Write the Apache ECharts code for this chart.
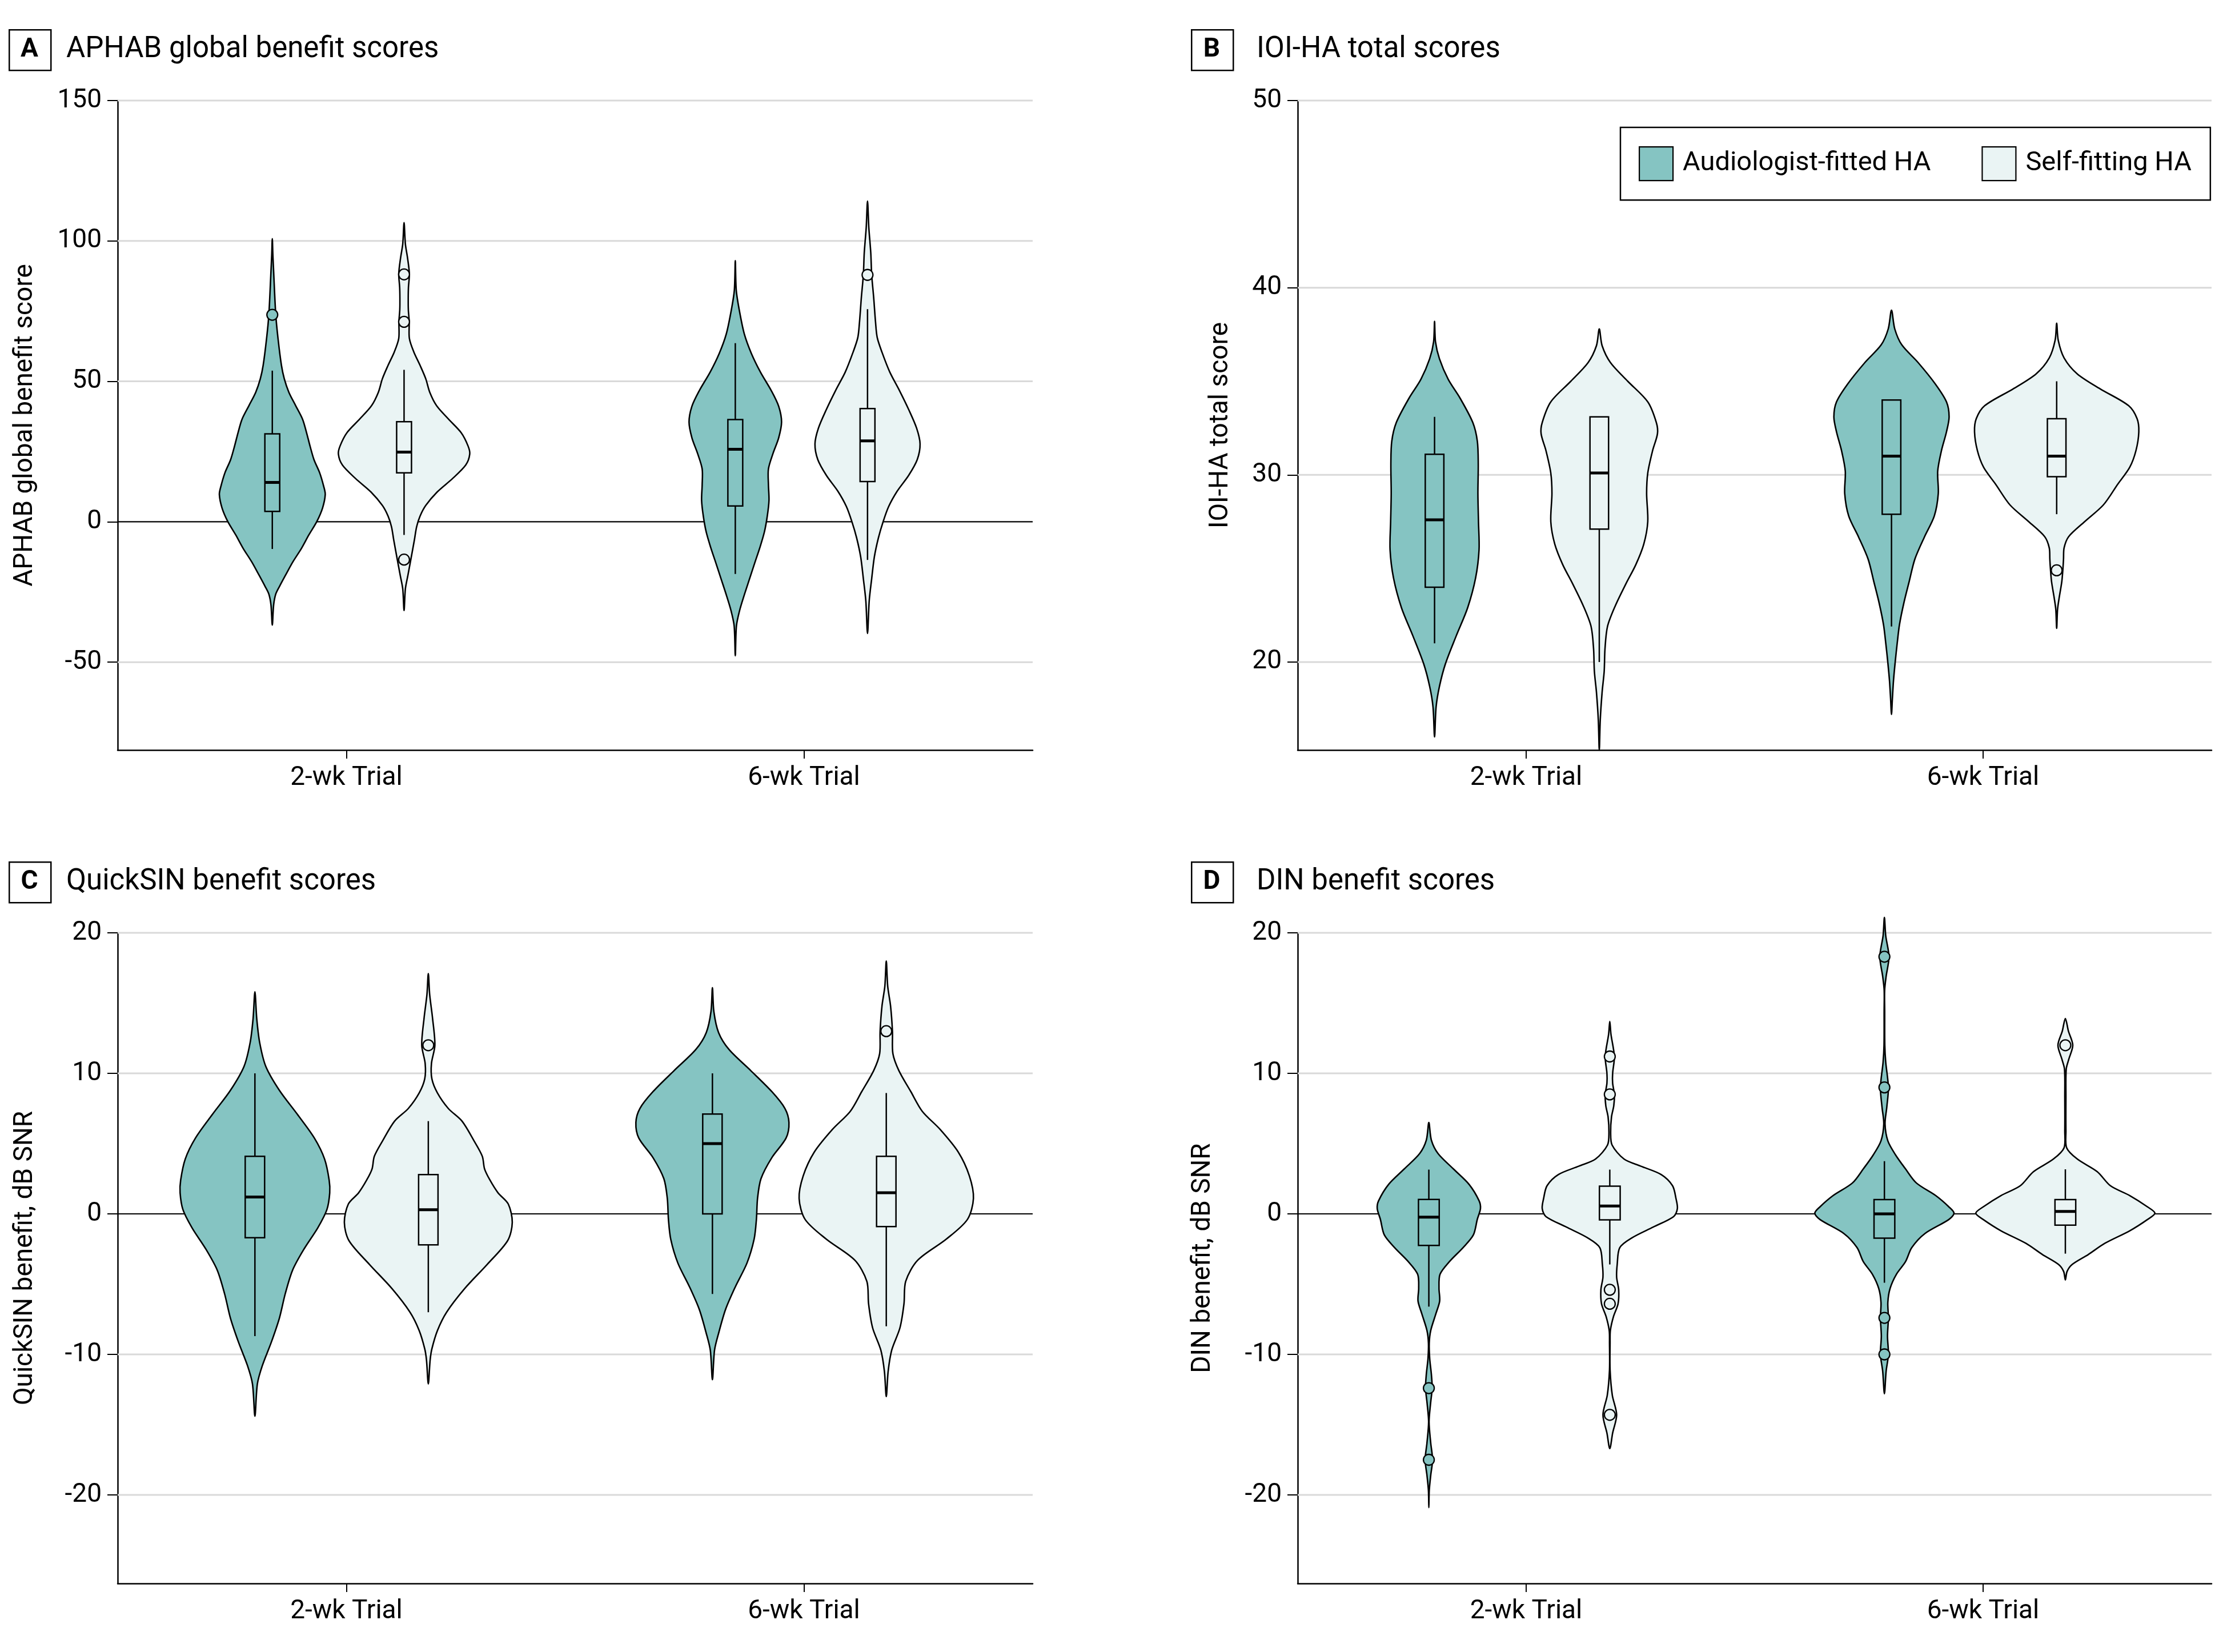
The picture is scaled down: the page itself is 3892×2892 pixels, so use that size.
<!DOCTYPE html>
<html><head><meta charset="utf-8">
<script src="https://cdn.jsdelivr.net/npm/echarts@6/dist/echarts.min.js"></script>
<style>html,body{margin:0;padding:0;background:#fff}#c{width:3892px;height:2892px}</style>
</head><body><div id="c"></div><script>
// ---------------- DATA ----------------
const categories = ['2-wk Trial', '6-wk Trial'];
const groupNames = ['Audiologist-fitted HA', 'Self-fitting HA'];
const panelLetters = ['A', 'B', 'C', 'D'];
const panelTitles = ['APHAB global benefit scores', 'IOI-HA total scores', 'QuickSIN benefit scores', 'DIN benefit scores'];
const yAxisNames = ['APHAB global benefit score', 'IOI-HA total score', 'QuickSIN benefit, dB SNR', 'DIN benefit, dB SNR'];
const yTicksA = [-50, 0, 50, 100, 150];
const yTicksB = [20, 30, 40, 50];
const yTicksC = [-20, -10, 0, 10, 20];
const yTicksD = [-20, -10, 0, 10, 20];
const yRangeA = [-81.3, 150];
const yRangeB = [15.3, 50];
const yRangeC = [-26.3, 20];
const yRangeD = [-26.3, 20];

// violin profiles: [value, relative density half-width]
const violinA_aud_2wk = [[-36.8,0],[-29.7,2.3],[-25.8,6],[-22.9,13],[-19.1,23],[-14.3,36],[-9.5,51],[-4.7,64],[0.1,78],[4.9,88],[9.7,92.7],[12.6,90],[17.4,83],[22.1,73],[27,66],[31.7,60],[36.5,53],[41.3,41],[46.1,29],[50.9,21],[55.7,16],[65.3,10],[73.9,6],[89.3,2.3],[95,1],[100.8,0]];
const violinA_self_2wk = [[-31.6,0],[-23.9,2.3],[-19.1,6.7],[-13.3,12],[-6.6,18],[-1.8,22],[2.0,28],[5.8,38],[10.6,58],[15.4,85],[20.2,108],[24.1,115],[27,112],[31.7,100],[36.5,78],[41.3,57],[46.1,45],[50.9,38],[55.7,28],[60.5,17],[65.3,9.3],[71.3,9],[75.5,7.5],[79.7,7.3],[83.5,7.7],[88.3,9.3],[94.1,6],[98.9,2.3],[106.5,0]];
const violinA_aud_6wk = [[-47.7,0],[-37.1,2],[-31.5,7.7],[-25.9,16],[-20.3,25],[-14.7,34],[-9.2,43],[-3.6,51],[2.0,56],[7.6,59],[13.2,58],[18.8,58],[24.3,66],[29.9,76],[35.5,81],[41.1,76],[46.7,63],[53.3,44],[60.0,28],[66.7,16],[74.6,7.7],[82.4,1.7],[93.0,0]];
const violinA_self_6wk = [[-39.8,0],[-28.1,3],[-20.3,7.3],[-12.5,12],[-5.8,19],[-0.2,27],[5.4,37],[10.9,52],[16.5,72],[22.1,87],[27.7,92],[33.3,86],[40.0,72],[46.7,56],[53.3,39],[60.0,26],[65.6,17],[71.2,14],[80.1,10.7],[87.9,7.3],[95.8,5.7],[104.7,2.3],[114.2,0]];

const violinB_aud_2wk = [[16.0,0],[17.6,2.7],[18.7,8.6],[19.9,19],[21.4,38],[22.9,58],[24.5,72],[26.0,78],[27.5,77],[29.0,76],[30.6,76.6],[31.8,75],[32.8,67],[34.1,44.7],[35.1,24],[36.2,8.6],[37.1,1.7],[38.2,0]];
const violinB_self_2wk = [[15.3,0],[16.9,1.7],[18.4,5],[19.5,8.6],[20.7,10],[21.9,14.4],[23.0,28],[24.2,47],[25.2,64],[26.3,78],[27.5,85],[29.0,83],[30.1,85],[31.3,93.5],[32.2,102],[32.8,100],[33.9,85],[35.0,50],[36.0,19.6],[36.9,5],[37.8,0]];
const violinB_aud_6wk = [[17.2,0],[18.0,1.5],[19.0,3.5],[20.0,6.5],[21.0,10],[22.0,14],[23.2,22],[24.3,31],[25.5,41],[26.7,58],[27.8,75],[29.0,82],[30.2,81],[31.3,87.6],[32.3,96.4],[33.1,101],[33.9,96.4],[34.85,77],[36.0,46.7],[36.95,18],[37.8,5.7],[38.8,0]];
const violinB_self_6wk = [[21.8,0],[22.8,1.5],[23.4,4.2],[24.3,9],[25.0,11],[25.5,12],[26.1,13],[26.7,21],[27.5,49],[28.4,82],[29.5,107],[30.4,128],[31.3,139],[32.3,144],[33.0,141],[33.7,126],[34.6,76],[35.4,36],[36.25,13],[37.2,2.7],[38.1,0]];

const violinC_aud_2wk = [[-14.4,0],[-12.1,4.3],[-10.8,13],[-9.1,29],[-7.4,43],[-5.7,53],[-4.0,66],[-2.5,86],[-1.0,110],[0.3,126],[1.5,131],[2.4,130],[3.9,122],[5.4,104],[7.1,74],[8.8,42.7],[10.5,19],[12.2,8.3],[13.9,3.2],[15.8,0]];
const violinC_self_2wk = [[-12.1,0],[-10.4,3.2],[-9.6,6.3],[-8.3,16],[-7.0,32],[-5.3,64],[-3.6,103],[-1.9,139],[-0.6,147],[0.7,140],[1.5,122],[2.4,108],[3.2,98.5],[4.1,94.5],[5.2,80],[6.6,59],[7.5,35],[8.6,16],[9.6,6.3],[10.7,5.5],[12.0,11.5],[13.9,7.5],[15.6,2.4],[17.1,0]];
const violinC_aud_6wk = [[-11.8,0],[-9.7,3.7],[-8.5,10.8],[-6.8,23],[-5.2,40],[-3.5,60.5],[-1.8,73],[-0.4,77],[1.1,79],[2.5,85],[4.0,104],[5.4,129],[6.5,134],[7.5,127],[8.7,104],[10.2,67],[11.7,29],[12.9,10.8],[14.4,2.5],[16.1,0]];
const violinC_self_6wk = [[-13.0,0],[-11.2,3.3],[-9.7,9.5],[-8.1,24],[-6.4,31],[-4.8,34],[-3.3,55],[-1.8,105],[-0.4,142],[1.1,152.6],[2.7,145.5],[4.4,126],[6.0,94.5],[7.3,63],[8.7,43],[10.2,22],[11.4,11.6],[13.0,10.8],[14.8,7.5],[16.2,2.5],[18.0,0]];

const violinD_aud_2wk = [[-20.9,0],[-19.7,0.7],[-18.6,3.3],[-17.5,6.5],[-16.3,3.3],[-14.8,0.4],[-13.5,3],[-12.4,5.8],[-11.4,4.4],[-10.3,1.5],[-9.2,0.7],[-8.3,3.3],[-7.1,12.4],[-6.2,19],[-5.3,17.8],[-4.3,19.6],[-3.4,36],[-2.4,60],[-1.5,78],[-0.38,85],[0.38,90.5],[0.94,88],[2.1,70.5],[3.2,43],[4.3,16],[5.25,4.4],[6.5,0]];
const violinD_self_2wk = [[-16.7,0],[-15.6,5],[-14.3,12],[-12.9,4.4],[-11.1,0.5],[-9.2,0.5],[-8.3,1],[-7.3,6.5],[-6.4,14.5],[-5.4,15.6],[-4.5,12],[-3.6,13],[-2.4,17.5],[-1.7,39],[-0.94,76],[-0.19,112],[0.38,118.5],[1.1,116],[2.0,110],[2.8,90],[3.4,54],[3.9,25],[4.9,4],[5.8,1.5],[6.9,3],[7.7,7],[8.5,8],[9.3,5],[10.0,5],[11.2,8],[12.8,2],[13.7,0]];
const violinD_aud_6wk = [[-12.8,0],[-11.2,3],[-10.0,7],[-8.7,5.4],[-7.4,7],[-6.3,6],[-5.3,10],[-4.3,21],[-3.4,37],[-2.4,48],[-1.4,71],[-0.4,113],[0.05,122],[0.5,113],[1.3,90],[2.2,56],[3.2,37],[4.2,19.5],[5.2,6],[6.4,1.1],[7.6,4.2],[9.0,7],[10.8,2.3],[12.0,0.7],[14.4,0.5],[15.9,0.4],[16.9,3],[18.3,8],[19.8,2.3],[21.1,0]];
const violinD_self_6wk = [[-4.7,0],[-4.1,3],[-3.6,12],[-2.9,40],[-2.1,69],[-1.2,113],[-0.4,144],[0.05,157],[0.5,144],[1.3,113],[2.0,79],[3.0,56],[3.9,21],[4.7,2.3],[5.9,1],[8.3,1],[10.3,1.5],[11.0,6],[12.0,13],[13.0,5.4],[13.9,0]];

// box statistics: [lower whisker, Q1, median, Q3, upper whisker] for 2-wk, 6-wk
const boxA_aud = [[-9.7, 3.7, 14.0, 31.3, 53.8], [-18.6, 5.6, 25.8, 36.4, 63.6]];
const boxA_self = [[-4.7, 17.4, 24.8, 35.6, 54.1], [-13.6, 14.3, 28.8, 40.3, 75.7]];
const boxB_aud = [[21.0, 24.0, 27.6, 31.1, 33.1], [21.9, 27.9, 31.0, 34.0, 34.0]];
const boxB_self = [[20.0, 27.1, 30.1, 33.1, 33.1], [27.9, 29.9, 31.0, 33.0, 35.0]];
const boxC_aud = [[-8.7, -1.7, 1.2, 4.1, 10.0], [-5.7, 0.0, 5.0, 7.1, 10.0]];
const boxC_self = [[-7.0, -2.2, 0.3, 2.8, 6.6], [-8.0, -0.9, 1.5, 4.1, 8.6]];
const boxD_aud = [[-6.6, -2.25, -0.23, 1.03, 3.15], [-4.9, -1.73, 0.0, 1.02, 3.75]];
const boxD_self = [[-3.6, -0.43, 0.56, 1.97, 3.15], [-2.83, -0.8, 0.17, 1.02, 3.17]];

// outliers for 2-wk, 6-wk
const outA_aud = [[73.7], []];
const outA_self = [[-13.5, 71.2, 88.1], [87.9]];
const outB_aud = [[], []];
const outB_self = [[], [24.9]];
const outC_aud = [[], []];
const outC_self = [[12.0], [13.0]];
const outD_aud = [[-12.4, -17.5], [-7.4, -10.0, 9.0, 18.3]];
const outD_self = [[-5.4, -6.4, -14.3, 8.5, 11.2], [12.0]];

// ---------------- STYLE / LAYOUT ----------------
const FONT = 'Roboto, "Liberation Sans", sans-serif';
const TEAL = '#85C4C2';
const PALE = '#EAF4F4';
const GRIDC = '#D9D9D9';
const REF_BAND = 801;

const panels = [
  { grid: {left: 206, top: 176, width: 1602, height: 1137}, ticks: yTicksA, range: yRangeA,
    violins: [[violinA_aud_2wk, violinA_aud_6wk], [violinA_self_2wk, violinA_self_6wk]],
    boxes: [boxA_aud, boxA_self], outs: [outA_aud, outA_self],
    offsets: [[-0.162, -0.150], [0.126, 0.139]], boxHalf: 13, nameGap: 139,
    label: {x: 15, y: 51}, titleX: 116 },
  { grid: {left: 2272, top: 176, width: 1600, height: 1137}, ticks: yTicksB, range: yRangeB,
    violins: [[violinB_aud_2wk, violinB_aud_6wk], [violinB_self_2wk, violinB_self_6wk]],
    boxes: [boxB_aud, boxB_self], outs: [outB_aud, outB_self],
    offsets: [[-0.2005, -0.2005], [0.160, 0.161]], boxHalf: 16.3, nameGap: 112,
    label: {x: 2085, y: 51}, titleX: 2200 },
  { grid: {left: 206, top: 1633, width: 1602, height: 1139}, ticks: yTicksC, range: yRangeC,
    violins: [[violinC_aud_2wk, violinC_aud_6wk], [violinC_self_2wk, violinC_self_6wk]],
    boxes: [boxC_aud, boxC_self], outs: [outC_aud, outC_self],
    offsets: [[-0.200, -0.200], [0.179, 0.180]], boxHalf: 17, nameGap: 139,
    label: {x: 15, y: 1508}, titleX: 116 },
  { grid: {left: 2272, top: 1633, width: 1600, height: 1139}, ticks: yTicksD, range: yRangeD,
    violins: [[violinD_aud_2wk, violinD_aud_6wk], [violinD_self_2wk, violinD_self_6wk]],
    boxes: [boxD_aud, boxD_self], outs: [outD_aud, outD_self],
    offsets: [[-0.213, -0.216], [0.183, 0.180]], boxHalf: 18.2, nameGap: 143,
    label: {x: 2085, y: 1508}, titleX: 2200 }
];

function gridRenderer(params, api) {
  const cs = params.coordSys;
  const v = api.value(1);
  const y = api.coord([0, v])[1];
  return { type: 'line', silent: true,
    shape: {x1: cs.x, y1: y, x2: cs.x + cs.width, y2: y},
    style: {stroke: v === 0 ? '#000' : GRIDC, lineWidth: v === 0 ? 2.2 : 3} };
}

function makeViolinRenderer(p, g, color) {
  return function (params, api) {
    const i = params.dataIndex;
    const band = api.size([1, 0])[0];
    const k = band / REF_BAND;
    const cx = api.coord([i, 0])[0] + p.offsets[g][i] * band;
    const Y = v => api.coord([i, v])[1];
    const prof = p.violins[g][i];
    const right = prof.map(d => [cx + d[1] * k, Y(d[0])]);
    const left = prof.slice(1, -1).reverse().map(d => [cx - d[1] * k, Y(d[0])]);
    const b = p.boxes[g][i];
    const bh = p.boxHalf * k;
    const ln = {stroke: '#000', lineWidth: 2.5};
    const children = [
      {type: 'polygon', shape: {points: right.concat(left), smooth: 0.3},
       style: {fill: color, stroke: '#000', lineWidth: 2.6, lineJoin: 'round'}},
      {type: 'line', shape: {x1: cx, y1: Y(b[3]), x2: cx, y2: Y(b[4])}, style: ln},
      {type: 'line', shape: {x1: cx, y1: Y(b[0]), x2: cx, y2: Y(b[1])}, style: ln},
      {type: 'rect', shape: {x: cx - bh, y: Y(b[3]), width: 2 * bh, height: Y(b[1]) - Y(b[3])},
       style: {fill: color, stroke: '#000', lineWidth: 2.5}},
      {type: 'line', shape: {x1: cx - bh, y1: Y(b[2]), x2: cx + bh, y2: Y(b[2])},
       style: {stroke: '#000', lineWidth: 5}}
    ];
    p.outs[g][i].forEach(o => {
      children.push({type: 'circle', shape: {cx: cx, cy: Y(o), r: 9.5},
        style: {fill: color, stroke: '#000', lineWidth: 2.3}});
    });
    return {type: 'group', children: children};
  };
}

const option = {
  backgroundColor: '#fff',
  animation: false,
  textStyle: {fontFamily: FONT},
  grid: [], xAxis: [], yAxis: [], series: [], graphic: [],
  legend: {
    left: 2837, top: 223, orient: 'horizontal', icon: 'rect',
    itemWidth: 59, itemHeight: 59, itemGap: 89, padding: [33, 33, 33, 32],
    borderColor: '#000', borderWidth: 2.5, backgroundColor: '#fff', selectedMode: false,
    textStyle: {fontSize: 47, color: '#000', fontFamily: FONT, padding: [0, 0, 0, 12]},
    data: [
      {name: groupNames[0], itemStyle: {color: TEAL, borderColor: '#000', borderWidth: 2.2}},
      {name: groupNames[1], itemStyle: {color: PALE, borderColor: '#000', borderWidth: 2.2}}
    ]
  }
};

panels.forEach((p, pi) => {
  option.grid.push(Object.assign({outerBoundsMode: 'none', containLabel: false}, p.grid));
  option.xAxis.push({
    type: 'category', gridIndex: pi, data: categories, position: 'bottom',
    axisLine: {show: true, onZero: false, lineStyle: {color: '#000', width: 2.5}},
    axisTick: {show: true, alignWithLabel: true, length: 15, lineStyle: {color: '#000', width: 2}},
    axisLabel: {fontSize: 46, color: '#000', margin: 26, fontFamily: FONT},
    splitLine: {show: false}
  });
  option.yAxis.push({
    type: 'value', gridIndex: pi, min: p.range[0], max: p.range[1],
    name: yAxisNames[pi], nameLocation: 'middle', nameGap: p.nameGap, nameRotate: 90,
    nameMoveOverlap: false,
    nameTextStyle: {fontSize: 46, color: '#000', fontFamily: FONT},
    axisLine: {show: true, onZero: false, lineStyle: {color: '#000', width: 2.5}},
    axisTick: {show: true, length: 18, customValues: p.ticks, lineStyle: {color: '#000', width: 2}},
    axisLabel: {show: true, fontSize: 46, color: '#000', margin: 28, customValues: p.ticks, fontFamily: FONT},
    splitLine: {show: false}
  });
  option.series.push({
    type: 'custom', xAxisIndex: pi, yAxisIndex: pi, silent: true, z: 1,
    data: p.ticks.map(v => [0, v]), renderItem: gridRenderer
  });
  [TEAL, PALE].forEach((color, g) => {
    option.series.push({
      type: 'custom', name: groupNames[g], xAxisIndex: pi, yAxisIndex: pi, z: 3 + g,
      itemStyle: {color: color, borderColor: '#000', borderWidth: 2},
      data: p.boxes[g].map((b, i) => [i, b[2]]),
      renderItem: makeViolinRenderer(p, g, color)
    });
  });
  option.graphic.push(
    {type: 'rect', left: p.label.x, top: p.label.y, shape: {width: 73, height: 71},
     style: {fill: '#fff', stroke: '#000', lineWidth: 2.5}},
    {type: 'text', x: p.label.x + 36.5, y: p.label.y + 36, style: {text: panelLetters[pi],
     font: 'bold 46px ' + FONT, fill: '#000', textAlign: 'center', textVerticalAlign: 'middle'}},
    {type: 'text', x: p.titleX, y: p.label.y + 36, style: {text: panelTitles[pi],
     font: '51px ' + FONT, fill: '#000', textAlign: 'left', textVerticalAlign: 'middle'}}
  );
});

const chart = echarts.init(document.getElementById('c'), null, {renderer: 'canvas', width: 3892, height: 2892});
chart.setOption(option);
</script></body></html>
